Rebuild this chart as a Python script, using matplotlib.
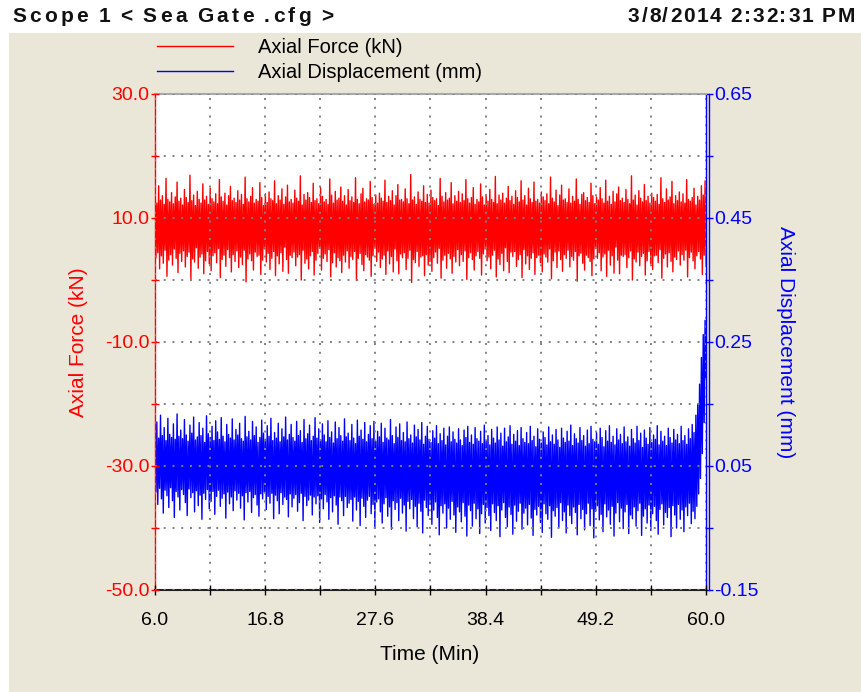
import numpy as np
import matplotlib
matplotlib.use("Agg")
import matplotlib.pyplot as plt
from matplotlib.patches import Rectangle
from matplotlib.ticker import FixedLocator, FuncFormatter

plt.rcParams['font.family'] = ['Liberation Sans', 'DejaVu Sans']

# ---------------------------------------------------------------- data
TITLE = "Scope 1 < Sea Gate .cfg >"
STAMP = "3/8/2014 2:32:31 PM"

T_START, T_END = 6.0, 60.0

# Axial force (kN): alternating crests and troughs of the cyclic load
FORCE_CRESTS = [
    13.1, 12.4, 15.2, 12.9, 13.6, 12.2, 16.4, 13.0, 12.6, 14.1, 12.3, 13.4, 15.8, 12.7, 13.2,
    12.1, 14.6, 13.3, 12.5, 16.9, 12.8, 13.7, 12.0, 14.3, 13.0, 12.4, 15.5, 12.9, 13.5, 12.2,
    14.8, 13.1, 12.6, 13.9, 12.3, 16.2, 13.4, 12.7, 14.0, 12.1, 13.6, 15.1, 12.8, 13.2, 12.5,
    14.4, 12.9, 13.8, 12.2, 16.6, 13.1, 12.6, 13.5, 14.9, 12.4, 13.0, 12.7, 15.7, 13.3, 12.0,
    13.9, 12.5, 14.2, 13.1, 12.8, 16.0, 12.3, 13.6, 12.9, 14.7, 12.2, 13.4, 15.3, 12.6, 13.0,
    12.4, 14.5, 13.2, 12.7, 16.8, 12.1, 13.8, 12.9, 14.1, 13.3, 12.5, 15.6, 12.8, 13.1, 12.3,
    14.9, 13.5, 12.6, 13.0, 12.2, 16.3, 13.7, 12.4, 14.3, 12.9, 13.2, 15.0, 12.7, 13.6, 12.1,
    14.6, 12.8, 13.4, 12.5, 16.5, 13.0, 12.3, 13.9, 14.8, 12.6, 13.1, 12.9, 15.9, 13.3, 12.2,
    13.7, 12.4, 14.0, 13.2, 12.7, 16.1, 12.5, 13.5, 12.8, 14.4, 12.1, 13.6, 15.4, 12.9, 13.0,
    12.6, 14.7, 13.1, 12.3, 17.0, 12.9, 13.4, 12.2, 14.2, 13.0, 12.7, 15.2, 12.5, 13.8, 12.4,
    14.5, 13.3, 12.8, 13.1, 12.0, 16.4, 13.5, 12.6, 14.1, 12.9, 13.2, 15.7, 12.3, 13.6, 12.7,
    14.3, 12.5, 13.9, 12.8, 16.2, 13.1, 12.4, 13.3, 14.9, 12.2, 13.0, 12.6, 15.5, 13.4, 12.1,
    13.8, 12.7, 14.6, 13.0, 12.5, 16.7, 12.3, 13.7, 12.9, 14.0, 12.4, 13.2, 15.1, 12.8, 13.5,
    12.2, 14.4, 13.3, 12.6, 16.0, 12.9, 13.6, 12.1, 14.8, 13.1, 12.5, 15.8, 12.7, 13.0, 12.4,
    14.2, 13.4, 12.8, 13.9, 12.3, 16.6, 13.2, 12.6, 14.5, 12.0, 13.7, 15.3, 12.9, 13.1, 12.5,
    14.7, 12.4, 13.5, 12.7, 16.3, 13.0, 12.2, 13.8, 14.1, 12.8, 13.3, 12.5, 15.6, 13.6, 12.3,
    13.4, 12.9, 14.9, 13.1, 12.4, 16.1, 12.7, 13.5, 12.2, 14.3, 12.6, 13.9, 15.0, 12.8, 13.2,
    12.5, 14.6, 13.0, 12.3, 16.8, 12.9, 13.7, 12.1, 14.4, 13.2, 12.6, 15.4, 12.8, 13.5, 12.4,
    14.0, 13.3, 12.7, 13.8, 12.2, 16.5, 13.1, 12.5, 14.7, 12.9, 13.4, 15.9, 12.3, 13.6, 12.8,
    14.2, 12.6, 13.9, 12.4, 16.2, 13.0, 12.7, 13.3, 14.8, 12.1, 13.5, 12.9, 15.2, 13.7, 16.0,
]
FORCE_TROUGHS = [
    3.6, 4.4, 1.8, 3.9, 2.7, 4.8, 0.6, 3.2, 4.1, 2.4, 5.0, 3.5, 1.2, 4.3, 3.0,
    4.7, 2.1, 3.8, 4.5, 0.2, 3.4, 2.9, 5.2, 1.9, 3.7, 4.2, 1.0, 3.1, 4.6, 2.6,
    1.5, 3.9, 4.4, 2.8, 5.1, 0.4, 3.3, 4.0, 2.2, 4.9, 3.6, 1.3, 4.1, 3.0, 4.7,
    2.0, 3.7, 2.5, 4.8, -0.3, 3.4, 4.2, 3.1, 1.6, 4.5, 3.8, 4.0, 0.9, 3.2, 5.0,
    2.9, 4.3, 1.7, 3.5, 4.6, 0.7, 3.9, 2.6, 4.4, 1.4, 5.3, 3.3, 1.1, 4.0, 3.6,
    4.5, 2.3, 3.7, 4.1, 0.0, 4.8, 2.7, 3.4, 1.8, 3.9, 4.6, 0.8, 3.2, 4.3, 5.1,
    1.6, 3.5, 4.2, 3.0, 4.9, 0.5, 2.8, 4.4, 2.1, 3.6, 3.1, 1.2, 4.0, 2.9, 4.7,
    1.9, 3.8, 3.3, 4.6, -0.1, 3.5, 4.3, 2.5, 1.5, 4.1, 3.7, 3.2, 0.6, 3.9, 5.2,
    3.0, 4.5, 2.0, 3.4, 4.0, 0.9, 4.7, 2.6, 3.8, 1.3, 5.0, 3.1, 1.0, 4.2, 3.6,
    4.4, 1.7, 3.5, 4.8, -0.4, 3.3, 2.8, 4.6, 2.2, 3.7, 3.9, 0.7, 4.1, 2.4, 3.0,
    1.4, 3.6, 4.5, 2.7, 5.1, 0.3, 3.2, 4.0, 1.9, 4.3, 3.4, 1.1, 3.8, 2.9, 4.9,
    2.3, 4.1, 3.0, 4.7, 0.1, 3.6, 4.4, 3.3, 1.6, 3.9, 4.6, 3.5, 0.8, 4.2, 5.0,
    3.1, 3.7, 1.8, 4.0, 4.8, 0.5, 3.4, 2.5, 4.3, 1.5, 5.2, 3.0, 1.2, 4.5, 3.8,
    4.6, 2.2, 3.3, 4.1, 0.4, 4.9, 2.6, 3.9, 1.7, 3.5, 4.4, 0.9, 3.6, 4.0, 2.8,
    1.3, 4.2, 3.7, 2.9, 5.0, 0.2, 3.1, 4.5, 2.0, 4.7, 3.3, 1.4, 4.1, 3.5, 4.8,
    2.1, 3.8, 3.2, 4.6, -0.2, 3.9, 4.3, 2.7, 1.6, 4.0, 3.6, 3.0, 0.7, 3.4, 5.1,
    3.5, 4.4, 1.5, 3.7, 4.2, 0.6, 4.8, 2.4, 3.9, 1.1, 5.3, 3.2, 1.0, 4.0, 3.8,
    4.1, 2.0, 3.6, 4.7, 0.0, 3.4, 2.9, 4.5, 2.3, 3.8, 4.3, 0.8, 3.1, 4.6, 2.6,
    1.7, 3.9, 4.0, 2.8, 4.9, 0.3, 3.5, 4.2, 2.1, 4.4, 3.0, 1.3, 3.7, 3.3, 4.7,
    2.4, 4.1, 3.2, 4.8, 0.5, 3.6, 4.5, 3.1, 1.8, 3.9, 4.6, 3.4, 0.9, 4.0, 2.2,
]

# Axial displacement (µm): crests and troughs, drifting down then lifting at the end
DISP_CRESTS_UM = [
    104, 121, 95, 132, 99, 112, 91, 127, 101, 96, 118, 93, 134, 98, 108,
    94, 125, 100, 90, 116, 103, 129, 92, 97, 120, 99, 111, 88, 131, 102,
    96, 114, 91, 123, 105, 93, 128, 98, 89, 117, 101, 95, 126, 92, 109,
    100, 119, 94, 90, 130, 97, 106, 92, 122, 99, 113, 88, 96, 124, 103,
    93, 115, 98, 127, 91, 104, 95, 119, 89, 110, 97, 129, 92, 101, 117,
    96, 90, 122, 99, 107, 88, 125, 94, 102, 116, 91, 98, 128, 95, 110,
    92, 118, 100, 89, 123, 96, 105, 87, 121, 94, 112, 99, 90, 126, 97,
    103, 91, 117, 95, 86, 124, 98, 108, 93, 120, 89, 101, 115, 94, 122,
    90, 106, 97, 119, 88, 111, 95, 92, 125, 99, 86, 113, 96, 118, 91,
    104, 89, 121, 94, 100, 87, 116, 97, 109, 92, 120, 85, 98, 114, 93,
    88, 107, 95, 115, 86, 102, 91, 111, 84, 98, 113, 89, 105, 93, 87,
    110, 92, 83, 108, 96, 114, 88, 100, 85, 112, 94, 90, 106, 86, 116,
    91, 99, 84, 109, 95, 87, 113, 92, 103, 82, 111, 89, 97, 115, 85,
    101, 90, 107, 83, 112, 94, 88, 104, 86, 114, 91, 98, 81, 110, 93,
    87, 105, 96, 84, 113, 89, 100, 85, 109, 92, 80, 111, 95, 88, 106,
    90, 116, 83, 102, 94, 87, 112, 91, 99, 82, 108, 86, 114, 93, 89,
    104, 85, 111, 96, 81, 107, 90, 115, 88, 98, 84, 110, 92, 101, 86,
    113, 89, 97, 82, 109, 94, 87, 114, 91, 103, 80, 108, 95, 85, 112,
    88, 100, 93, 115, 84, 106, 90, 98, 83, 111, 96, 87, 109, 92, 101,
    86, 114, 91, 99, 85, 110, 94, 117, 104, 132, 150, 182, 225, 262, 285,
]
DISP_TROUGHS_UM = [
    8, -12, 14, -3, -26, 11, 2, -17, 15, -6, -33, 9, 0, -21, 12,
    4, -9, -30, 13, -1, 7, -24, 10, -14, 3, -36, 6, -4, 12, -19,
    -7, 9, -28, 1, 11, -15, -2, 5, -34, 8, -11, 0, -22, 10, -5,
    6, -18, 2, -37, 7, -8, 9, -25, -1, 4, -13, -31, 5, -3, 8,
    -20, 1, -10, 6, -35, 3, -6, -27, 7, -12, 0, -4, -32, 5, -16,
    -2, 4, -23, -9, 6, -38, 1, -14, -5, 3, -29, 0, -11, 2, -41,
    -3, -19, 4, -8, -36, -1, -24, 2, -13, -44, 0, -6, -30, 1, -17,
    -10, -4, -39, 0, -21, -7, -46, -2, -15, -33, -5, 1, -27, -12, -49,
    -8, -3, -24, -42, -11, -1, -31, -16, -52, -6, -20, -9, -38, -2, -26,
    -13, -55, -7, -19, -4, -35, -15, -48, -10, -23, -58, -5, -17, -30, -12,
    -44, -21, -8, -33, -61, -14, -26, -11, -50, -18, -36, -7, -29, -57, -16,
    -24, -40, -9, -31, -63, -13, -22, -47, -10, -35, -19, -59, -27, -12, -42,
    -17, -30, -54, -11, -25, -38, -14, -64, -21, -9, -33, -48, -16, -28, -60,
    -13, -39, -23, -10, -52, -26, -18, -45, -12, -34, -62, -20, -29, -15, -41,
    -57, -11, -27, -36, -14, -65, -22, -31, -17, -49, -9, -38, -24, -58, -13,
    -30, -43, -16, -25, -61, -12, -35, -20, -53, -27, -10, -46, -19, -66, -23,
    -14, -37, -28, -56, -11, -32, -21, -44, -15, -63, -26, -9, -40, -18, -51,
    -24, -12, -59, -29, -35, -16, -47, -22, -10, -62, -31, -19, -42, -13, -54,
    -27, -15, -38, -60, -20, -11, -45, -25, -33, -17, -64, -14, -29, -50, -12,
    -36, -21, -56, -16, -30, -10, -43, -23, -35, -15, 5, 30, 70, 120, 190,
]

TIME_TICKS = [6.0, 11.4, 16.8, 22.2, 27.6, 33.0, 38.4, 43.8, 49.2, 54.6, 60.0]
TIME_LABELED = [6.0, 16.8, 27.6, 38.4, 49.2, 60.0]
FORCE_TICKS = [-50, -40, -30, -20, -10, 0, 10, 20, 30]
FORCE_LABELED = [-50, -30, -10, 10, 30]
DISP_TICKS = [-0.15, -0.05, 0.05, 0.15, 0.25, 0.35, 0.45, 0.55, 0.65]
DISP_LABELED = [-0.15, 0.05, 0.25, 0.45, 0.65]

FORCE_LABEL = "Axial Force (kN)"
DISP_LABEL = "Axial Displacement (mm)"
TIME_LABEL = "Time (Min)"

# ---------------------------------------------------------------- style
RED = "#ff0000"
BLUE = "#0000ff"
PANEL = "#ebe7d8"
GRID = "#808080"
W, H = 861, 692


def fx(px):
    return px / W


def fy(py):
    return 1 - py / H


def only(labeled, fmt):
    return FuncFormatter(
        lambda v, p: fmt.format(v) if any(abs(v - L) < 1e-6 for L in labeled) else "")


fig = plt.figure(figsize=(W / 100, H / 100), dpi=100, facecolor="white")
fig.patches.append(Rectangle((fx(9), 0), 1, fy(33), transform=fig.transFigure,
                             facecolor=PANEL, edgecolor="none", zorder=-10, figure=fig))

ax = fig.add_axes([fx(155), fy(590), fx(706) - fx(155), fy(94) - fy(590)])
ax2 = ax.twinx()
# force axis (with grid) drawn above the displacement axis
ax.set_zorder(ax2.get_zorder() + 1)
ax.patch.set_visible(False)
ax2.patch.set_visible(True)
ax2.patch.set_facecolor("white")

# interleave crests and troughs into a single trace
force = np.empty(2 * len(FORCE_CRESTS))
force[0::2] = FORCE_CRESTS
force[1::2] = FORCE_TROUGHS
disp = np.empty(2 * len(DISP_CRESTS_UM))
disp[0::2] = DISP_CRESTS_UM
disp[1::2] = DISP_TROUGHS_UM
disp = disp / 1000.0  # µm -> mm
t_force = np.linspace(T_START, T_END, len(force))
t_disp = np.linspace(T_START, T_END, len(disp))

l_disp, = ax2.plot(t_disp, disp, color=BLUE, lw=1.0)
l_force, = ax.plot(t_force, force, color=RED, lw=1.0)

ax.set_xlim(T_START, T_END)
ax.set_ylim(-50, 30)
ax2.set_ylim(-0.15, 0.65)

# ticks
ax.xaxis.set_major_locator(FixedLocator(TIME_TICKS))
ax.xaxis.set_major_formatter(only(TIME_LABELED, "{:.1f}"))
ax.yaxis.set_major_locator(FixedLocator(FORCE_TICKS))
ax.yaxis.set_major_formatter(only(FORCE_LABELED, "{:.1f}"))
ax2.yaxis.set_major_locator(FixedLocator(DISP_TICKS))
ax2.yaxis.set_major_formatter(only(DISP_LABELED, "{:.2f}"))

ax.tick_params(axis="x", direction="inout", length=7, width=1, color="black",
               labelsize=14, pad=12, labelcolor="black", top=False)
ax.tick_params(axis="y", direction="inout", length=6, width=1, color=RED,
               labelsize=14, pad=1, labelcolor=RED, right=False)
ax2.tick_params(axis="y", direction="inout", length=6, width=1, color=BLUE,
                labelsize=14, pad=1, labelcolor=BLUE)

# dotted grid drawn over the traces
ax.set_axisbelow(False)
ax.grid(True, color=GRID, linestyle=(0, (1, 3.5)), linewidth=1.4)
ax2.grid(False)

# spines
ax.spines["right"].set_visible(False)
for s in ("left", "top", "bottom"):
    ax2.spines[s].set_visible(False)
ax.spines["left"].set_color(RED)
ax.spines["left"].set_linewidth(1.0)
ax.spines["top"].set_color("#a8a8a8")
ax.spines["top"].set_linewidth(1.5)
ax.spines["bottom"].set_color("#202020")
ax.spines["bottom"].set_linewidth(1.5)
ax2.spines["right"].set_color(BLUE)
ax2.spines["right"].set_linewidth(1.0)
ax2.spines["right"].set_position(("outward", 2.2))
ax2.axvline(T_END, color=BLUE, lw=1.0, clip_on=False)

# axis titles
fig.text(fx(78), fy(342), FORCE_LABEL, rotation=90, ha="center", va="center",
         color=RED, fontsize=15)
fig.text(fx(785), fy(342), DISP_LABEL, rotation=270, ha="center", va="center",
         color=BLUE, fontsize=15)
fig.text(fx(430), fy(655), TIME_LABEL, ha="center", va="center",
         color="black", fontsize=15)

# legend
fig.legend([l_force, l_disp], [FORCE_LABEL, DISP_LABEL], loc="upper left",
           bbox_to_anchor=(fx(157), fy(38)), frameon=False, fontsize=14.5,
           handlelength=3.77, handletextpad=1.24, labelspacing=0.3,
           borderpad=0, borderaxespad=0)


# header lines drawn with widened letter spacing
def tracked(text, x0, x1, baseline, space=7.0, **kw):
    renderer = fig.canvas.get_renderer()
    widths = []
    for ch in text:
        if ch == " ":
            widths.append(None)
            continue
        tt = fig.text(0, 0, ch, **kw)
        widths.append(tt.get_window_extent(renderer=renderer).width)
        tt.remove()
    n_glyph = sum(1 for w in widths if w is not None)
    natural = sum(w for w in widths if w is not None) + space * text.count(" ")
    track = (x1 - x0 - natural) / (n_glyph - 1)
    cur = x0
    for ch, w in zip(text, widths):
        if w is None:
            cur += space
            continue
        fig.text(fx(cur), fy(baseline), ch, ha="left", va="baseline", **kw)
        cur += w + track


tracked(TITLE, 12, 333, 22, fontsize=15, fontweight="bold", color="#111111")
tracked(STAMP, 628, 855, 22, fontsize=15, fontweight="bold", color="#111111")

fig.savefig("out.png", dpi=100, facecolor=fig.get_facecolor())
